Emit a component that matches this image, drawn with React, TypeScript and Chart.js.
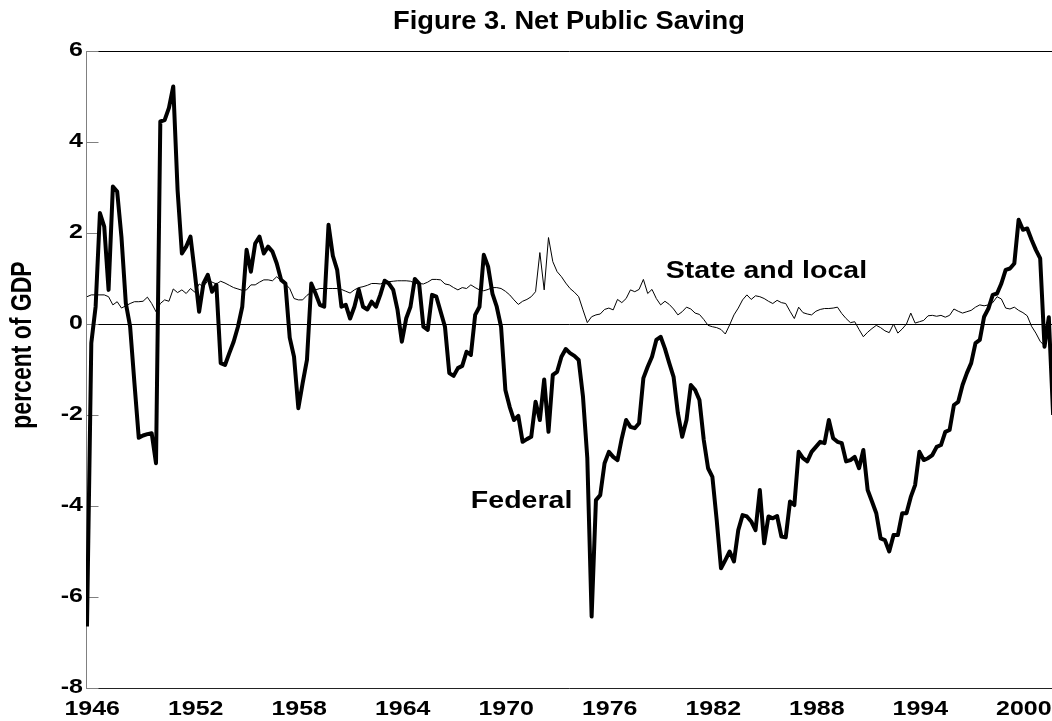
import React, { useEffect, useRef } from "react";
import { Chart, registerables } from "chart.js";

Chart.register(...registerables);

// Quarterly observations starting 1946 Q1 (percent of GDP)
const firstYear = 1946;
const federal = [
  -6.65, -0.42, 0.38, 2.44, 2.14, 0.75, 3.02, 2.91, 1.9, 0.46,
  -0.06, -1.3, -2.5, -2.45, -2.42, -2.4, -3.06, 4.45, 4.48, 4.75,
  5.22, 2.95, 1.55, 1.7, 1.92, 1.12, 0.27, 0.89, 1.08, 0.71,
  0.86, -0.86, -0.9, -0.64, -0.39, -0.06, 0.38, 1.63, 1.15, 1.77,
  1.92, 1.55, 1.7, 1.59, 1.33, 0.97, 0.89, -0.3, -0.72, -1.85,
  -1.3, -0.79, 0.89, 0.67, 0.42, 0.38, 2.18, 1.5, 1.19, 0.38,
  0.42, 0.12, 0.38, 0.76, 0.38, 0.32, 0.49, 0.38, 0.64, 0.95,
  0.89, 0.75, 0.31, -0.39, 0.12, 0.38, 0.99, 0.89, -0.06, -0.13,
  0.64, 0.6, 0.27, -0.06, -1.08, -1.14, -0.97, -0.92, -0.61, -0.68,
  0.2, 0.38, 1.52, 1.26, 0.67, 0.38, -0.06, -1.45, -1.82, -2.11,
  -2.02, -2.59, -2.53, -2.48, -1.71, -2.11, -1.22, -2.37, -1.12, -1.05,
  -0.72, -0.55, -0.64, -0.7, -0.79, -1.6, -2.95, -6.43, -3.87, -3.76,
  -3.06, -2.81, -2.92, -2.99, -2.51, -2.11, -2.26, -2.29, -2.18, -1.19,
  -0.94, -0.72, -0.35, -0.28, -0.54, -0.86, -1.16, -1.96, -2.48, -2.11,
  -1.34, -1.45, -1.67, -2.55, -3.17, -3.36, -4.31, -5.37, -5.19, -5.0,
  -5.22, -4.53, -4.2, -4.23, -4.34, -4.53, -3.65, -4.82, -4.23, -4.27,
  -4.22, -4.67, -4.69, -3.9, -3.98, -2.81, -2.95, -3.02, -2.81, -2.7,
  -2.59, -2.62, -2.11, -2.51, -2.59, -2.62, -3.02, -2.99, -2.92, -3.17,
  -2.77, -3.65, -3.9, -4.16, -4.71, -4.75, -5.0, -4.64, -4.64, -4.16,
  -4.16, -3.8, -3.54, -2.81, -2.99, -2.95, -2.88, -2.7, -2.66, -2.37,
  -2.33, -1.78, -1.71, -1.34, -1.08, -0.86, -0.42, -0.35, 0.16, 0.34,
  0.64, 0.67, 0.89, 1.19, 1.22, 1.33, 2.29, 2.07, 2.1, 1.85,
  1.63, 1.44, -0.5, 0.15, -2.0,
];
const stateLocal = [
  0.6, 0.64, 0.64, 0.64, 0.64, 0.6, 0.42, 0.49, 0.35, 0.4,
  0.45, 0.49, 0.49, 0.5, 0.59, 0.45, 0.27, 0.45, 0.53, 0.5,
  0.77, 0.69, 0.75, 0.67, 0.78, 0.7, 0.88, 0.82, 0.95, 0.92,
  0.88, 0.94, 0.9, 0.85, 0.8, 0.77, 0.74, 0.75, 0.86, 0.86,
  0.92, 0.97, 0.97, 0.95, 1.04, 0.95, 0.88, 0.78, 0.56, 0.53,
  0.53, 0.63, 0.7, 0.75, 0.78, 0.78, 0.78, 0.78, 0.78, 0.76,
  0.72, 0.68, 0.75, 0.8, 0.82, 0.85, 0.89, 0.89, 0.88, 0.92,
  0.93, 0.94, 0.95, 0.95, 0.95, 0.94, 0.9, 0.89, 0.88, 0.92,
  0.98, 0.98, 0.97, 0.88, 0.86, 0.8, 0.75, 0.8, 0.78, 0.86,
  0.8, 0.75, 0.73, 0.76, 0.8, 0.8, 0.78, 0.72, 0.64, 0.53,
  0.43, 0.5, 0.54, 0.6, 0.71, 1.57, 0.75, 1.9, 1.37, 1.15,
  1.04, 0.9, 0.78, 0.7, 0.6, 0.31, 0.03, 0.16, 0.2, 0.22,
  0.32, 0.35, 0.31, 0.54, 0.47, 0.56, 0.75, 0.71, 0.76, 0.98,
  0.67, 0.76, 0.56, 0.42, 0.5, 0.43, 0.33, 0.2, 0.27, 0.37,
  0.33, 0.24, 0.21, 0.1, -0.03, -0.06, -0.08, -0.12, -0.22, -0.02,
  0.2, 0.35, 0.53, 0.64, 0.54, 0.62, 0.6, 0.56, 0.5, 0.45,
  0.52, 0.47, 0.45, 0.28, 0.12, 0.37, 0.25, 0.22, 0.2, 0.28,
  0.32, 0.34, 0.34, 0.35, 0.37, 0.23, 0.12, 0.03, 0.05, -0.12,
  -0.28, -0.18, -0.1, -0.03, -0.08, -0.15, -0.19, 0.0, -0.2, -0.11,
  0.0, 0.24, 0.02, 0.05, 0.08, 0.18, 0.19, 0.17, 0.19, 0.15,
  0.19, 0.33, 0.28, 0.24, 0.27, 0.3, 0.37, 0.42, 0.4, 0.42,
  0.47, 0.6, 0.55, 0.35, 0.33, 0.37, 0.3, 0.25, 0.18, -0.05,
  -0.2, -0.38, -0.48,
];
const tickYears = [1946, 1952, 1958, 1964, 1970, 1976, 1982, 1988, 1994, 2000];
const titleText = "Figure 3. Net Public Saving";
const yAxisTitle = "percent of GDP";
const seriesLabels = ["Federal", "State and local"];

const FONT = "'Liberation Sans', Arial, Helvetica, sans-serif";
const STRETCH = 1.28; // the reference text is horizontally widened

export default function App() {
  const ref = useRef<HTMLCanvasElement | null>(null);

  useEffect(() => {
    document.body.style.margin = "0";
    const canvas = ref.current;
    if (!canvas) return;
    const c2d = canvas.getContext("2d") as any;
    const origFill = c2d.fillText.bind(c2d);
    c2d.__sx = 1;
    c2d.fillText = (text: string, x: number, y: number, maxWidth?: number) => {
      const sx = c2d.__sx || 1;
      if (sx === 1) {
        if (maxWidth !== undefined) origFill(text, x, y, maxWidth);
        else origFill(text, x, y);
        return;
      }
      c2d.save();
      c2d.translate(x, y);
      c2d.scale(sx, 1);
      origFill(text, 0, 0);
      c2d.restore();
    };

    const framePlugin = {
      id: "frame",
      beforeDraw(chart: any) {
        chart.ctx.__sx = STRETCH;
      },
      beforeDatasetsDraw(chart: any) {
        const { ctx, chartArea: a, scales } = chart;
        const yS = scales.y;
        const L = Math.round(a.left) + 0.5;
        const T = Math.round(a.top) + 0.5;
        const B = Math.round(a.bottom) + 0.5;
        ctx.save();
        ctx.lineWidth = 1;
        ctx.strokeStyle = "#000";
        ctx.beginPath();
        ctx.moveTo(L, T);
        ctx.lineTo(a.right, T);
        ctx.stroke();
        ctx.strokeStyle = "#222";
        ctx.beginPath();
        ctx.moveTo(L, B);
        ctx.lineTo(a.right, B);
        ctx.stroke();
        const z = Math.round(yS.getPixelForValue(0)) + 0.5;
        ctx.strokeStyle = "#000";
        ctx.beginPath();
        ctx.moveTo(L, z);
        ctx.lineTo(a.right, z);
        ctx.stroke();
        ctx.strokeStyle = "#808080";
        ctx.beginPath();
        ctx.moveTo(L, T);
        ctx.lineTo(L, B);
        for (const t of yS.ticks) {
          const py = Math.round(yS.getPixelForValue(t.value)) + 0.5;
          ctx.moveTo(L, py);
          ctx.lineTo(L + 12, py);
        }
        ctx.stroke();
        ctx.restore();
      },
      afterDraw(chart: any) {
        const { ctx, chartArea: a, scales } = chart;
        ctx.save();
        ctx.fillStyle = "#000";
        ctx.__sx = 1.05;
        ctx.font = `bold 26px ${FONT}`;
        ctx.textAlign = "center";
        ctx.textBaseline = "alphabetic";
        ctx.fillText(titleText, (a.left + a.right) / 2, 29);
        // y axis title (rotated; the widening acts across the text)
        ctx.__sx = 1;
        ctx.font = `bold 23px ${FONT}`;
        ctx.save();
        ctx.translate(23, 345);
        ctx.rotate(-Math.PI / 2);
        ctx.scale(1, 1.25);
        ctx.textAlign = "center";
        ctx.textBaseline = "middle";
        ctx.fillText(yAxisTitle, 0, 0);
        ctx.restore();
        // series labels
        ctx.__sx = 1.24;
        ctx.font = `bold 23px ${FONT}`;
        ctx.textAlign = "left";
        ctx.textBaseline = "alphabetic";
        ctx.fillText(seriesLabels[0], scales.x.getPixelForValue(89), scales.y.getPixelForValue(-4.04));
        ctx.fillText(seriesLabels[1], scales.x.getPixelForValue(134.2), scales.y.getPixelForValue(1.01));
        ctx.restore();
        ctx.__sx = 1;
      },
    };

    const tickFont = { family: FONT, size: 19.5, weight: "bold" as const };

    const chart = new Chart(canvas, {
      type: "line",
      data: {
        datasets: [
          {
            label: seriesLabels[1],
            data: stateLocal.map((v, i) => ({ x: i, y: v })),
            borderColor: "#000",
            borderWidth: 1,
            pointRadius: 0,
            tension: 0,
            fill: false,
          },
          {
            label: seriesLabels[0],
            data: federal.map((v, i) => ({ x: i, y: v })),
            borderColor: "#000",
            borderWidth: 4,
            borderJoinStyle: "round",
            pointRadius: 0,
            tension: 0,
            fill: false,
          },
        ],
      },
      options: {
        animation: false,
        responsive: false,
        devicePixelRatio: 1,
        layout: { padding: { top: 51, left: 0, right: 0, bottom: 0 } },
        plugins: {
          legend: { display: false },
          tooltip: { enabled: false },
          title: { display: false },
        },
        scales: {
          x: {
            type: "linear",
            min: -0.23,
            max: 223.74,
            grid: { display: false, drawTicks: false },
            border: { display: false },
            afterBuildTicks: (s: any) => {
              s.ticks = tickYears.map((y) => ({ value: (y - firstYear) * 4 + 1.2 }));
            },
            afterFit: (s: any) => {
              s.height = 33;
              s.paddingLeft = 0;
              s.paddingRight = 0;
            },
            ticks: {
              autoSkip: false,
              maxRotation: 0,
              minRotation: 0,
              padding: 10,
              color: "#000",
              font: tickFont,
              callback: (v: any) => String(firstYear + Math.floor(Number(v) / 4)),
            },
          },
          y: {
            min: -8,
            max: 6,
            grid: { display: false, drawTicks: false },
            border: { display: false },
            afterFit: (s: any) => {
              s.width = 86;
              s.paddingTop = 0;
              s.paddingBottom = 0;
            },
            ticks: {
              stepSize: 2,
              padding: 3,
              color: "#000",
              font: tickFont,
            },
          },
        },
      },
      plugins: [framePlugin],
    });

    return () => {
      chart.destroy();
      c2d.fillText = origFill;
    };
  }, []);

  return (
    <div style={{ width: 1052, height: 721, background: "#fff" }}>
      <canvas ref={ref} width={1052} height={721} style={{ display: "block" }} />
    </div>
  );
}
